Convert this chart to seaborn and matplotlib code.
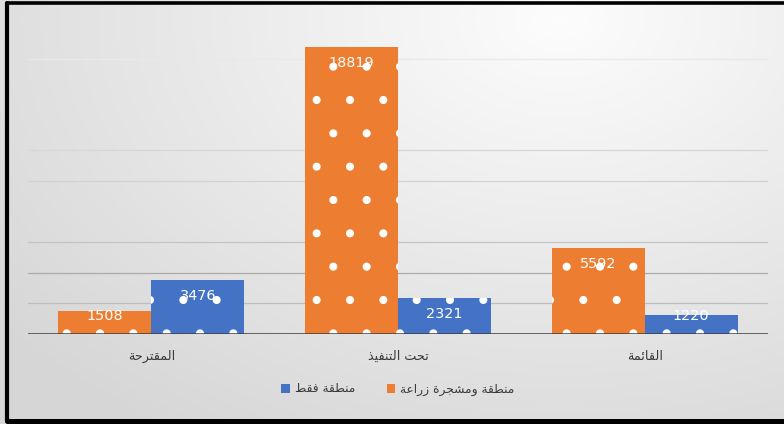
import numpy as np
import pandas as pd
import matplotlib
matplotlib.use("Agg")
import matplotlib.pyplot as plt
from matplotlib.lines import Line2D
import seaborn as sns

# ---- data -------------------------------------------------------------
categories = ["المقترحة", "تحت التنفيذ", "القائمة"]
series_names = ["منطقة ومشجرة زراعة", "منطقة فقط"]
planted_values = [1508, 18819, 5592]
area_only_values = [3476, 2321, 1220]
series_colors = ["#ED7D31", "#4472C4"]

# ---- minimal Arabic shaping (presentation forms + visual order) -------
FORMS = {
    "ا": ("\uFE8D", "\uFE8E", None, None),
    "ل": ("\uFEDD", "\uFEDE", "\uFEDF", "\uFEE0"),
    "م": ("\uFEE1", "\uFEE2", "\uFEE3", "\uFEE4"),
    "ق": ("\uFED5", "\uFED6", "\uFED7", "\uFED8"),
    "ت": ("\uFE95", "\uFE96", "\uFE97", "\uFE98"),
    "ر": ("\uFEAD", "\uFEAE", None, None),
    "ح": ("\uFEA1", "\uFEA2", "\uFEA3", "\uFEA4"),
    "ة": ("\uFE93", "\uFE94", None, None),
    "ن": ("\uFEE5", "\uFEE6", "\uFEE7", "\uFEE8"),
    "ف": ("\uFED1", "\uFED2", "\uFED3", "\uFED4"),
    "ي": ("\uFEF1", "\uFEF2", "\uFEF3", "\uFEF4"),
    "ذ": ("\uFEAB", "\uFEAC", None, None),
    "ئ": ("\uFE89", "\uFE8A", "\uFE8B", "\uFE8C"),
    "ط": ("\uFEC1", "\uFEC2", "\uFEC3", "\uFEC4"),
    "و": ("\uFEED", "\uFEEE", None, None),
    "ش": ("\uFEB5", "\uFEB6", "\uFEB7", "\uFEB8"),
    "ج": ("\uFE9D", "\uFE9E", "\uFE9F", "\uFEA0"),
    "ز": ("\uFEAF", "\uFEB0", None, None),
    "ع": ("\uFEC9", "\uFECA", "\uFECB", "\uFECC"),
}


def shape(text):
    out = []
    n = len(text)
    for i, ch in enumerate(text):
        if ch not in FORMS:
            out.append(ch)
            continue
        iso, fin, ini, med = FORMS[ch]
        prev = text[i - 1] if i > 0 else None
        nxt = text[i + 1] if i < n - 1 else None
        join_prev = prev in FORMS and FORMS[prev][2] is not None
        join_next = nxt in FORMS and ini is not None
        if join_prev and join_next:
            out.append(med)
        elif join_prev:
            out.append(fin)
        elif join_next:
            out.append(ini)
        else:
            out.append(iso)
    return "".join(reversed(out))


df = pd.DataFrame({
    "category": categories * 2,
    "series": [series_names[0]] * 3 + [series_names[1]] * 3,
    "value": planted_values + area_only_values,
})

# ---- figure -------------------------------------------------------------
DPI = 200
W, H = 784, 424
PX = 72 / DPI  # points per pixel
sns.set_theme(style="white")
plt.rcParams["font.family"] = ["DejaVu Sans"]
plt.rcParams["hatch.color"] = "white"
plt.rcParams["hatch.linewidth"] = 0.5

fig = plt.figure(figsize=(W / DPI, H / DPI), dpi=DPI)
fig.patch.set_facecolor("white")

# soft radial background
bg = fig.add_axes([0, 0, 1, 1], zorder=-10)
yy, xx = np.mgrid[0:H, 0:W]
r = np.sqrt(((xx - 560) / 820) ** 2 + ((yy - 20) / 560) ** 2)
shade = np.clip(0.99 - 0.17 * r, 0.84, 1.0)
rgb = np.dstack([shade, shade, shade])
bg.imshow(rgb, extent=[0, W, H, 0], aspect="auto", interpolation="bilinear")
bg.set_xlim(0, W)
bg.set_ylim(H, 0)
bg.axis("off")

# frame lines
for (x0, y0, x1, y1, lw) in [(7, 3, 7, 421, 1.5), (7, 3, W, 3, 1.3), (7, 421, W, 421, 1.8)]:
    fig.add_artist(Line2D([x0 / W, x1 / W], [1 - y0 / H, 1 - y1 / H],
                          color="black", lw=lw, transform=fig.transFigure))

AX_BOTTOM, AX_TOP = 333.5, 28.5
ax = fig.add_axes([28 / W, (H - AX_BOTTOM) / H, (768 - 28) / W, (AX_BOTTOM - AX_TOP) / H])
ax.set_facecolor("none")

sns.barplot(data=df, x="category", y="value", hue="series", order=categories,
            hue_order=series_names, palette=series_colors, width=0.754,
            gap=0, saturation=1, ax=ax, linewidth=0, edgecolor="white", zorder=3)

for bar in ax.patches:
    bar.set_hatch(".")
    bar.set_linewidth(0)

YMAX = 20000
ax.set_ylim(0, YMAX)
ax.set_xlim(-0.5, 2.5)

# horizontal grid, fading toward the bright upper area
grid_levels = [2000, 4000, 6000, 10000, 12000, 18000]
grid_colors = ["#bdbdbd", "#ababab", "#c4c4c4", "#d2d2d2", "#d6d6d6", "#e9e9e9"]
for lvl, c in zip(grid_levels, grid_colors):
    ax.axhline(lvl, color=c, lw=0.45, zorder=1)
ax.axhline(0, color="#3c3c3c", lw=0.9, zorder=4)

for s in ax.spines.values():
    s.set_visible(False)
ax.set_yticks([])
ax.set_xticks(range(len(categories)))
ax.set_xticklabels([shape(c) for c in categories], fontsize=4.6, color="#3a3a3a")
ax.tick_params(axis="x", length=0, pad=6)
ax.set_xlabel("")
ax.set_ylabel("")

# value labels near the inner top of each bar, kept clear of the baseline
px_per_unit = (AX_BOTTOM - AX_TOP) / YMAX
for cont in ax.containers:
    for bar, v in zip(cont, cont.datavalues):
        h_px = v * px_per_unit
        drop = min(16, h_px - 17)
        ax.annotate(f"{v:.0f}", xy=(bar.get_x() + bar.get_width() / 2, v),
                    xytext=(0, -drop * PX), textcoords="offset points",
                    ha="center", va="center", color="white", fontsize=5.2,
                    zorder=6)

handles, labels = ax.get_legend_handles_labels()
ax.legend(handles[::-1], [shape(l) for l in labels[::-1]], loc="center",
          bbox_to_anchor=(0.5, (H - 389 - (H - AX_BOTTOM)) / (AX_BOTTOM - AX_TOP)),
          ncol=2, frameon=False, fontsize=4.4, handlelength=0.7, handleheight=0.8,
          handletextpad=0.4, columnspacing=2.6, labelcolor="#3a3a3a")

fig.savefig("out.png", dpi=DPI)
